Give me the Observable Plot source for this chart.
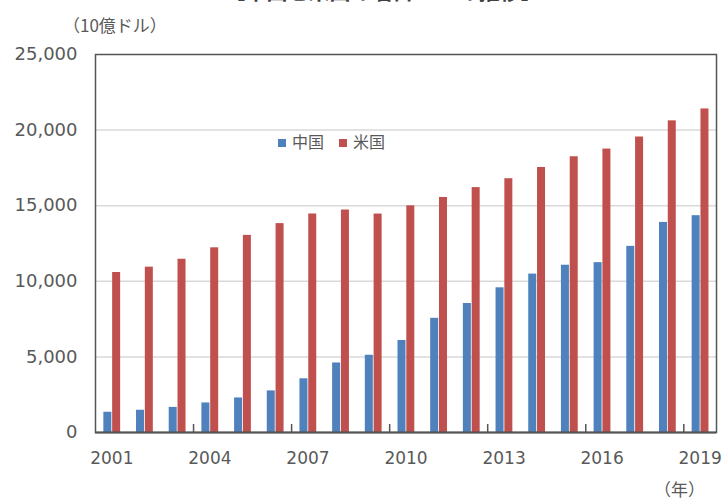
<!DOCTYPE html>
<html>
<head>
<meta charset="utf-8">
<script src="https://cdn.jsdelivr.net/npm/d3@7"></script>
<script src="https://cdn.jsdelivr.net/npm/@observablehq/plot@0.6"></script>
<style>
  body { margin: 0; background: #fff; }
  #wrap { position: relative; width: 723px; height: 500px; overflow: hidden; font-family: "DejaVu Sans", "Noto Sans CJK JP", sans-serif; color: #595959; }
  #wrap svg { position: absolute; left: 0; top: 0; }
  .lbl { position: absolute; white-space: nowrap; font-family: "Noto Sans CJK JP", sans-serif; }
  .sw { display: inline-block; width: 8px; height: 8px; vertical-align: middle; margin-right: 6px; position: relative; top: -1px; }
</style>
</head>
<body>
<div id="wrap"></div>
<script>
const years = [2001, 2002, 2003, 2004, 2005, 2006, 2007, 2008, 2009, 2010, 2011, 2012, 2013, 2014, 2015, 2016, 2017, 2018, 2019];
const china = [1339, 1471, 1660, 1955, 2286, 2752, 3552, 4598, 5110, 6087, 7552, 8532, 9570, 10476, 11062, 11233, 12310, 13895, 14340];
const usa   = [10582, 10936, 11458, 12214, 13037, 13815, 14452, 14713, 14449, 14992, 15543, 16197, 16785, 17527, 18238, 18745, 19543, 20612, 21400];
const seriesNames = ["中国", "米国"];
const seriesColors = ["#4F81BD", "#C0504D"];
const yTicks = [0, 5000, 10000, 15000, 20000, 25000];
const gridTicks = [5000, 10000, 15000, 20000];
const xLabelYears = [2001, 2004, 2007, 2010, 2013, 2016, 2019];
const xTickYears = [2004, 2007, 2010, 2013, 2016, 2019];
const titleText = "【中国と米国の名目GDPの推移】";
const unitText = "（10億ドル）";
const xUnitText = "（年）";

const W = 723, H = 500, mL = 95, mR = 7, mT = 54, mB = 68;
const bw = (W - mL - mR) / years.length;
const barW = 8;

const chinaRows = years.map((y, i) => ({year: y, value: china[i]}));
const usaRows = years.map((y, i) => ({year: y, value: usa[i]}));

const chart = Plot.plot({
  width: W, height: H,
  marginLeft: mL, marginRight: mR, marginTop: mT, marginBottom: mB,
  style: {fontFamily: '"DejaVu Sans", "Noto Sans CJK JP", sans-serif', fontSize: "17px", color: "#595959", background: "transparent"},
  x: {type: "band", domain: years, padding: 0, round: false, axis: null},
  y: {domain: [0, 25000], axis: null},
  marks: [
    Plot.gridY(gridTicks, {stroke: "#d9d9d9", strokeOpacity: 1, strokeWidth: 1.5}),
    Plot.barY(chinaRows, {x: "year", y: "value", fill: seriesColors[0], insetLeft: bw / 2 - barW, insetRight: bw / 2}),
    Plot.barY(usaRows, {x: "year", y: "value", fill: seriesColors[1], insetLeft: bw / 2 + 0.8, insetRight: bw / 2 - barW - 0.8}),
    Plot.frame({stroke: "#555", strokeWidth: 1.5}),
    Plot.ruleY([0], {stroke: "#555", strokeWidth: 2}),
    Plot.tickX(xTickYears, {x: d => d, dx: -bw / 2, insetTop: (H - mT - mB) - 8, stroke: "#555", strokeWidth: 1.5}),
    Plot.axisY(yTicks, {tickSize: 0, tickPadding: 18, tickFormat: d3.format(","), fill: "#595959", fontSize: 18, label: null}),
    Plot.axisX(xLabelYears, {tickSize: 0, tickPadding: 19, tickFormat: d => String(d), fill: "#595959", fontSize: 17, label: null})
  ]
});

const wrap = document.getElementById("wrap");
wrap.appendChild(chart);

function addLabel(html, css) {
  const d = document.createElement("div");
  d.className = "lbl";
  d.innerHTML = html;
  Object.assign(d.style, css);
  wrap.appendChild(d);
  return d;
}
addLabel(titleText, {left: "0px", width: "766px", textAlign: "center", top: "-22px", fontSize: "21px", fontWeight: "bold", color: "#404040", lineHeight: "24px"});
addLabel(unitText, {left: "63px", top: "12px", fontSize: "17px", lineHeight: "26px"});
addLabel(xUnitText, {left: "654px", top: "476px", fontSize: "17px", lineHeight: "26px"});
const legendHtml = seriesNames.map((n, i) =>
  `<span style="margin-right:15px"><span class="sw" style="background:${seriesColors[i]}"></span>${n}</span>`).join("");
addLabel(legendHtml, {left: "278px", top: "129px", fontSize: "16px", lineHeight: "24px"});
</script>
</body>
</html>
